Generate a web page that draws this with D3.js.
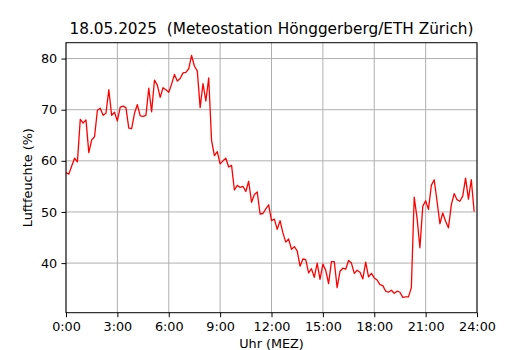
<!DOCTYPE html>
<html>
<head>
<meta charset="utf-8">
<script src="https://cdn.jsdelivr.net/npm/d3@7"></script>
<style>
  html, body { margin: 0; padding: 0; background: #ffffff; }
  svg { display: block; font-family: "DejaVu Sans", sans-serif; }
</style>
</head>
<body>
<svg id="chart" width="530" height="350"></svg>
<script>
// ---- data ----
const titleText = "18.05.2025  (Meteostation Hönggerberg/ETH Zürich)";
const xLabel = "Uhr (MEZ)";
const yLabel = "Luftfeuchte (%)";
const stepMinutes = 10; // one reading every 10 minutes, starting 0:00
const humidity = [
  57.7, 57.4, 59.0, 60.5, 59.8, 68.1, 67.4, 68.0, 61.6, 64.1, 64.7, 69.9,
  70.3, 68.9, 69.3, 73.9, 68.9, 69.5, 67.8, 70.5, 70.7, 70.4, 66.4, 66.3,
  69.3, 71.0, 68.8, 68.7, 68.9, 74.2, 69.6, 75.8, 74.8, 72.4, 74.3, 73.9,
  73.4, 75.0, 76.9, 75.6, 76.1, 77.2, 77.3, 78.0, 80.6, 78.5, 77.6, 70.4,
  75.1, 71.7, 76.2, 64.0, 61.0, 61.8, 59.4, 60.0, 60.5, 58.8, 59.1, 54.3,
  55.2, 54.8, 55.0, 54.0, 56.0, 51.9, 53.4, 53.9, 49.6, 49.7, 50.6, 51.4,
  48.3, 48.6, 46.6, 48.3, 45.9, 44.1, 44.7, 42.7, 43.2, 42.4, 39.4, 40.8,
  40.7, 38.1, 38.9, 37.2, 40.0, 36.8, 39.8, 38.6, 36.0, 40.3, 40.3, 35.2,
  38.4, 39.0, 38.8, 40.5, 40.0, 38.0, 38.6, 38.2, 36.9, 40.2, 37.3, 38.0,
  37.1, 36.7, 35.8, 35.6, 34.5, 34.3, 34.7, 34.1, 34.5, 34.3, 33.3, 33.4,
  33.4, 35.2, 52.9, 48.8, 43.0, 51.1, 52.2, 50.5, 55.2, 56.3, 52.1, 47.7,
  49.8, 48.2, 46.9, 51.4, 53.6, 52.4, 52.1, 53.1, 56.6, 52.5, 56.3, 50.1
];
const xTickHours = [0, 3, 6, 9, 12, 15, 18, 21, 24];
const xTickLabels = ["0:00", "3:00", "6:00", "9:00", "12:00", "15:00", "18:00", "21:00", "24:00"];
const yTicks = [40, 50, 60, 70, 80];
const yDomain = [30.3, 83.1];

// ---- layout ----
const W = 530, H = 350;
const m = { left: 66, right: 53, top: 42.7, bottom: 37.3 };
const iw = W - m.left - m.right;
const ih = H - m.top - m.bottom;
const tickFont = "12.8px";

const svg = d3.select("#chart");
const g = svg.append("g").attr("transform", `translate(${m.left},${m.top})`);

const x = d3.scaleLinear().domain([0, 24]).range([0, iw]);
const y = d3.scaleLinear().domain(yDomain).range([ih, 0]);

const pts = humidity.map((v, i) => ({ h: i * stepMinutes / 60, v }));

// grid
g.append("g").selectAll("line").data(xTickHours).join("line")
  .attr("x1", d => x(d)).attr("x2", d => x(d))
  .attr("y1", 0).attr("y2", ih)
  .attr("stroke", "#b0b0b0").attr("stroke-width", 1.0);
g.append("g").selectAll("line").data(yTicks).join("line")
  .attr("x1", 0).attr("x2", iw)
  .attr("y1", d => y(d)).attr("y2", d => y(d))
  .attr("stroke", "#b0b0b0").attr("stroke-width", 1.0);

// line
g.append("path").datum(pts)
  .attr("fill", "none")
  .attr("stroke", "#ff0000")
  .attr("stroke-width", 1.3)
  .attr("stroke-linejoin", "round")
  .attr("d", d3.line().x(d => x(d.h)).y(d => y(d.v)));

// axes
const xAxis = d3.axisBottom(x).tickValues(xTickHours)
  .tickFormat((d, i) => xTickLabels[i]).tickSize(4.5).tickPadding(4.3);
const yAxis = d3.axisLeft(y).tickValues(yTicks)
  .tickFormat(d3.format("d")).tickSize(4.5).tickPadding(4.3);

const gx = g.append("g").attr("transform", `translate(0,${ih})`).call(xAxis);
const gy = g.append("g").call(yAxis);
[gx, gy].forEach(a => {
  a.select(".domain").remove();
  a.selectAll("line").attr("stroke", "#000").attr("stroke-width", 1.0);
  a.selectAll("text").attr("fill", "#000")
    .style("font-family", "'DejaVu Sans', sans-serif").style("font-size", tickFont);
});

// frame
g.append("rect").attr("x", 0).attr("y", 0).attr("width", iw).attr("height", ih)
  .attr("fill", "none").attr("stroke", "#000").attr("stroke-width", 1.0);

// labels
svg.append("text").attr("x", m.left + iw / 2).attr("y", 34)
  .attr("text-anchor", "middle").style("font-size", "15.3px")
  .style("white-space", "pre").attr("xml:space", "preserve").attr("fill", "#000")
  .text(titleText);
svg.append("text").attr("x", m.left + iw / 2).attr("y", 347.5)
  .attr("text-anchor", "middle").style("font-size", tickFont).attr("fill", "#000")
  .text(xLabel);
svg.append("text")
  .attr("transform", `translate(31.5,${m.top + ih / 2}) rotate(-90)`)
  .attr("text-anchor", "middle").style("font-size", tickFont).attr("fill", "#000")
  .text(yLabel);
</script>
</body>
</html>
